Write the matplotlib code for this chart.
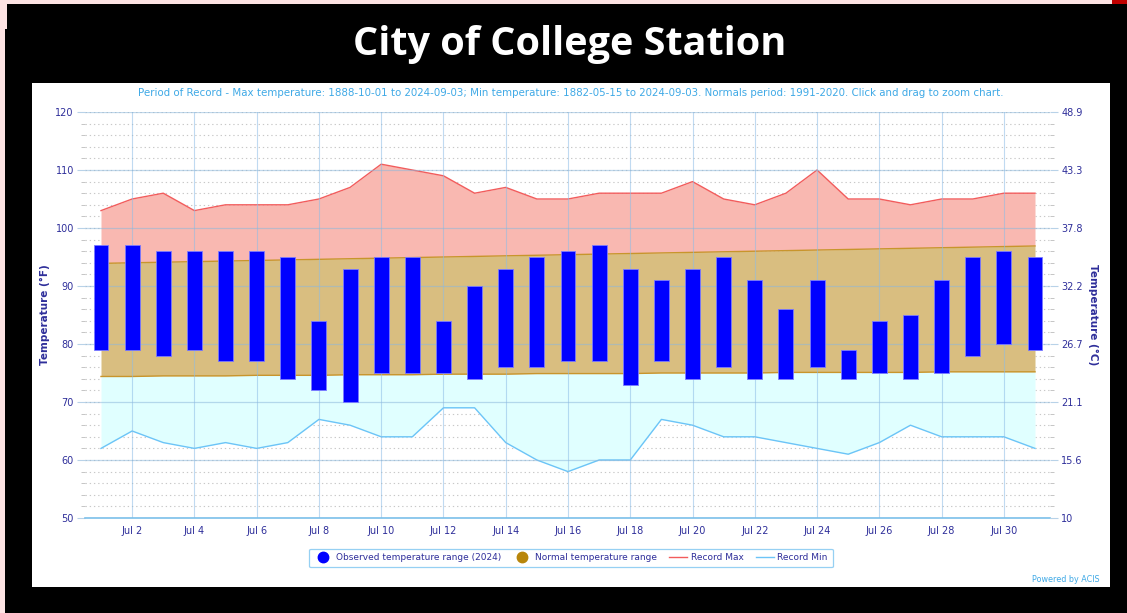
import matplotlib
matplotlib.use("Agg")
import matplotlib.pyplot as plt
from matplotlib.lines import Line2D
from matplotlib.patches import Rectangle
from matplotlib.ticker import FixedLocator, MultipleLocator, FuncFormatter, NullLocator
import numpy as np

# ---------------- data ----------------
days = list(range(1, 32))
obs_high = [97, 97, 96, 96, 96, 96, 95, 84, 93, 95, 95, 84, 90, 93, 95, 96,
            97, 93, 91, 93, 95, 91, 86, 91, 79, 84, 85, 91, 95, 96, 95]
obs_low = [79, 79, 78, 79, 77, 77, 74, 72, 70, 75, 75, 75, 74, 76, 76, 77,
           77, 73, 77, 74, 76, 74, 74, 76, 74, 75, 74, 75, 78, 80, 79]
normal_high = [93.9, 94.0, 94.1, 94.2, 94.3, 94.4, 94.5, 94.6, 94.7, 94.8, 94.9,
               95.0, 95.1, 95.2, 95.3, 95.4, 95.5, 95.6, 95.7, 95.8, 95.9, 96.0,
               96.1, 96.2, 96.3, 96.4, 96.5, 96.6, 96.7, 96.8, 96.9]
normal_low = [74.4, 74.4, 74.5, 74.5, 74.5, 74.6, 74.6, 74.6, 74.7, 74.7, 74.7,
              74.8, 74.8, 74.8, 74.9, 74.9, 74.9, 74.9, 75.0, 75.0, 75.0, 75.0,
              75.1, 75.1, 75.1, 75.1, 75.1, 75.2, 75.2, 75.2, 75.2]
record_max = [103, 105, 106, 103, 104, 104, 104, 105, 107, 111, 110, 109, 106,
              107, 105, 105, 106, 106, 106, 108, 105, 104, 106, 110, 105, 105,
              104, 105, 105, 106, 106]
record_min = [62, 65, 63, 62, 63, 62, 63, 67, 66, 64, 64, 69, 69, 63, 60, 58,
              60, 60, 67, 66, 64, 64, 63, 62, 61, 63, 66, 64, 64, 64, 62]
xtick_days = [2, 4, 6, 8, 10, 12, 14, 16, 18, 20, 22, 24, 26, 28, 30]
xtick_labels = ["Jul %d" % d for d in xtick_days]
ytick_f = [50, 60, 70, 80, 90, 100, 110, 120]

title = "City of College Station"
subtitle = ("Period of Record - Max temperature: 1888-10-01 to 2024-09-03; "
            "Min temperature: 1882-05-15 to 2024-09-03. Normals period: 1991-2020. "
            "Click and drag to zoom chart.")
legend_labels = ["Observed temperature range (2024)", "Normal temperature range",
                 "Record Max", "Record Min"]

# ---------------- style ----------------
W, H = 1127, 613
navy = "#2e2e9a"
fig = plt.figure(figsize=(W / 100, H / 100), dpi=100, facecolor="black")


def bg_rect(x0, y0, w, h, color):
    fig.patches.append(Rectangle((x0 / W, 1 - (y0 + h) / H), w / W, h / H,
                                 transform=fig.transFigure, facecolor=color,
                                 edgecolor="none", zorder=-5))


# pink strips at top/left edge, red corner
bg_rect(0, 0, W, 4, "#fde3e3")
bg_rect(0, 0, 7, 29, "#fde3e3")
bg_rect(0, 29, 5, H - 29, "#fde3e3")
bg_rect(1112, 0, 15, 4, "#c00000")
# white panel
bg_rect(32, 83, 1078, 504, "white")

fig.text(570 / W, 1 - 45 / H, title, color="white", fontsize=28.5, fontweight="bold",
         family=["Open Sans", "DejaVu Sans"], ha="center", va="center")
fig.text(571 / W, 1 - 93 / H, subtitle, color="#3fa9e6", fontsize=7.4,
         ha="center", va="center", family=["DejaVu Sans"])
fig.text(1100 / W, 1 - 579 / H, "Powered by ACIS", color="#3fa9e6", fontsize=5.8,
         ha="right", va="center")

pos = [85 / W, (H - 518) / H, 965 / W, 406 / H]
xlim = (1 - 16 / 31.14, 31 + 15 / 31.14)
ylim = (50, 120)

# background axes: dotted minor grid, below the fills
axb = fig.add_axes(pos, zorder=-1)
axb.set_facecolor("none")
axb.set_xlim(*xlim)
axb.set_ylim(*ylim)
axb.yaxis.set_major_locator(MultipleLocator(2))
axb.xaxis.set_major_locator(NullLocator())
axb.grid(axis="y", color="#c8c8c8", lw=0.8, ls=(0, (1.2, 2.6)))
axb.tick_params(axis="y", length=0, labelleft=False)
for s in axb.spines.values():
    s.set_visible(False)

ax = fig.add_axes(pos, zorder=0)
ax.set_facecolor("none")
x = np.array(days)
ax.set_xlim(*xlim)
ax.set_ylim(*ylim)

# fills
ax.fill_between(x, normal_high, record_max, color="#f9b8b1", lw=0, zorder=0.2)
ax.plot(x, record_max, color="#f25c5c", lw=1.0, zorder=0.3)
ax.fill_between(x, normal_low, normal_high, color="#d9be80", lw=0, zorder=0.2)
ax.plot(x, normal_high, color="#c8952c", lw=1.0, zorder=0.3)
ax.plot(x, normal_low, color="#c8952c", lw=1.0, zorder=0.3)
ax.fill_between(x, record_min, normal_low, color="#e0ffff", lw=0, zorder=0.2)
ax.plot(x, record_min, color="#6cc4f7", lw=1.0, zorder=0.3)

# observed bars
ax.bar(x, np.array(obs_high) - np.array(obs_low), bottom=obs_low, width=0.48,
       color="#0000ff", edgecolor="#7b7bff", linewidth=0.6, zorder=3)

# grid / ticks
ax.yaxis.set_major_locator(FixedLocator(ytick_f))
ax.yaxis.set_minor_locator(MultipleLocator(2))
ax.xaxis.set_major_locator(FixedLocator(xtick_days))
ax.set_xticklabels(xtick_labels)
ax.grid(axis="y", which="major", color="#8db8dc", lw=0.9, alpha=0.55)
ax.grid(axis="x", which="major", color="#8dbde6", lw=0.8, alpha=0.55)
for s in ["top", "right", "left"]:
    ax.spines[s].set_visible(False)
ax.spines["bottom"].set_color("#7cc0ea")
ax.spines["bottom"].set_linewidth(1.2)
ax.tick_params(axis="y", which="major", length=6, color="#b8d2e8", labelsize=7,
               labelcolor=navy, pad=2)
ax.tick_params(axis="y", which="minor", length=3, color="#bbbbbb")
ax.tick_params(axis="x", which="major", length=0, labelsize=7, labelcolor=navy, pad=6)
ax.set_ylabel("Temperature (°F)", color=navy, fontsize=7.5, fontweight="bold")
ax.yaxis.set_label_coords((50 - 85) / 965, 0.5)
# gridlines above the fills but below the bars
ax.xaxis.set_zorder(0.5)
ax.yaxis.set_zorder(0.5)

ax2 = ax.twinx()
ax2.set_ylim(*ylim)
ax2.yaxis.set_major_locator(FixedLocator(ytick_f))
ax2.yaxis.set_minor_locator(MultipleLocator(2))


def c_fmt(v, pos):
    c = (v - 32) * 5 / 9
    s = "%.1f" % c
    return s[:-2] if s.endswith(".0") else s


ax2.yaxis.set_major_formatter(FuncFormatter(c_fmt))
for s in ["top", "right", "left", "bottom"]:
    ax2.spines[s].set_visible(False)
ax2.tick_params(axis="y", which="major", length=6, color="#b8d2e8", labelsize=7,
                labelcolor=navy, pad=2)
ax2.tick_params(axis="y", which="minor", length=3, color="#bbbbbb")
ax2.set_ylabel("Temperature (°C)", color=navy, fontsize=7.5, fontweight="bold",
               rotation=270, va="center")
ax2.yaxis.set_label_coords((1093 - 85) / 965, 0.5)

handles = [
    Line2D([], [], ls="none", marker="o", markersize=7.5, color="#0000ff"),
    Line2D([], [], ls="none", marker="o", markersize=7.5, color="#b8860b"),
    Line2D([], [], color="#f25c5c", lw=1.0),
    Line2D([], [], color="#6cc4f7", lw=1.0),
]
leg = fig.legend(handles, legend_labels, loc="center", bbox_to_anchor=(571 / W, 1 - 558 / H),
                 ncol=4, fontsize=6.5, frameon=True, fancybox=True, handlelength=2.0,
                 columnspacing=1.4, handletextpad=0.35, borderpad=0.55, borderaxespad=0,
                 edgecolor="#7cc5f0", labelcolor=navy)
leg.get_frame().set_linewidth(0.9)

fig.savefig("out.png", dpi=100, facecolor="black")
